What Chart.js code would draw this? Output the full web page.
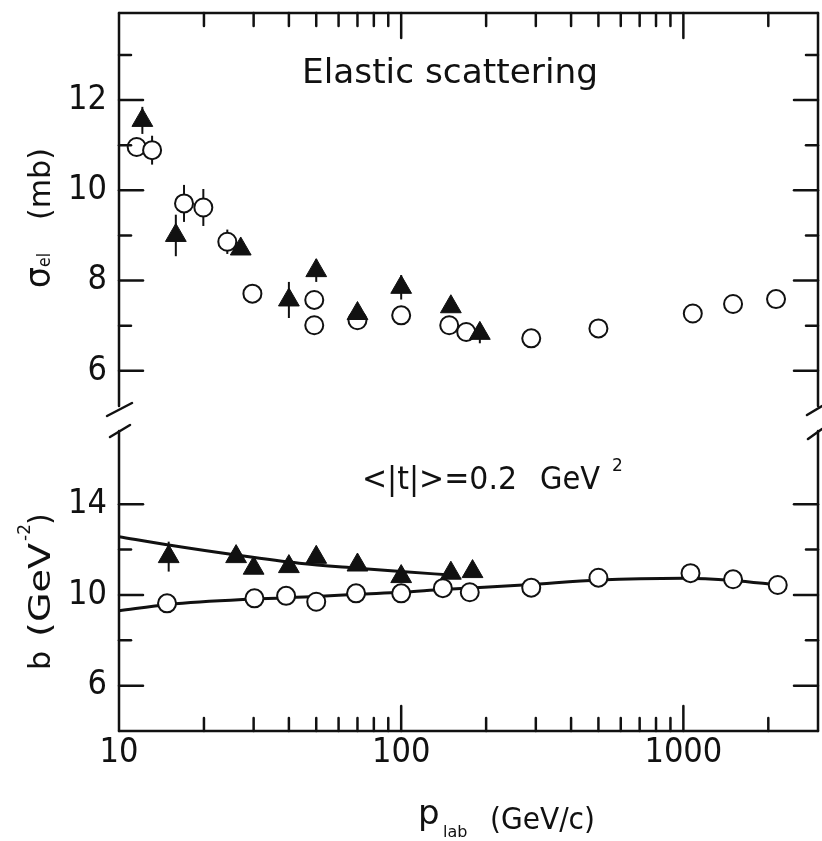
<!DOCTYPE html>
<html>
<head>
<meta charset="utf-8">
<script src="https://cdn.jsdelivr.net/npm/chart.js@4.4.1/dist/chart.umd.min.js"></script>
<style>
  body { margin: 0; background: #fff; overflow: hidden; }
  #wrap { position: relative; width: 822px; height: 841px; }
  #topBox { position: absolute; left: 0; top: 0; width: 822px; height: 420px; }
  #botBox { position: absolute; left: 0; top: 420px; width: 822px; height: 421px; }
  canvas { display: block; }
</style>
</head>
<body>
<div id="wrap">
  <div id="topBox"><canvas id="topChart"></canvas></div>
  <div id="botBox"><canvas id="botChart"></canvas></div>
</div>
<script>
// x axis: p_lab (GeV/c), log scale
const pRange = [10, 3000];
const pLabels = [10, 100, 1000];
const pMajor = [100, 1000];
const pMinor = [20, 30, 40, 50, 60, 70, 80, 90, 200, 300, 400, 500, 600, 700, 800, 900, 2000];

// top panel: sigma_el (mb)
const sigRange = [5.22, 13.93];
const sigTicks = [6, 8, 10, 12];
const sigMinor = [7, 9, 11, 13];
const sigTriP = [12.1, 15.9, 27, 40, 50, 70, 100, 150, 190];
const sigTriV = [11.55, 9.0, 8.7, 7.57, 8.22, 7.27, 7.85, 7.42, 6.83];
const sigTriErr = [0.3, 0.46, 0.1, 0.4, 0.25, 0.1, 0.27, 0.1, 0.22];
const sigCirP = [11.55, 13.1, 17, 19.9, 24.2, 29.7, 49.2, 49.2, 70, 100, 148, 170, 289, 500, 1080, 1500, 2130];
const sigCirV = [10.96, 10.89, 9.71, 9.62, 8.86, 7.71, 7.57, 7.01, 7.12, 7.23, 7.01, 6.86, 6.72, 6.94, 7.27, 7.48, 7.59];
const sigCirErr = [0.1, 0.32, 0.41, 0.41, 0.27, 0, 0, 0, 0, 0, 0, 0, 0, 0, 0, 0, 0];

// bottom panel: slope b (GeV^-2)
const bRange = [4, 17.23];
const bTicks = [6, 10, 14];
const bMinor = [8, 12];
const bTriP = [15, 26, 30, 40, 50, 70, 100, 150, 179];
const bTriV = [11.69, 11.69, 11.18, 11.25, 11.66, 11.32, 10.81, 10.96, 11.03];
const bTriErr = [0.66, 0, 0, 0, 0, 0, 0, 0, 0];
const bCirP = [14.8, 30.2, 39.1, 50, 69.2, 100, 140.5, 175, 289, 500, 1060, 1500, 2160];
const bCirV = [9.63, 9.85, 9.96, 9.70, 10.07, 10.07, 10.30, 10.12, 10.32, 10.76, 10.96, 10.69, 10.44];
const bTriFitP = [10, 15, 26, 43.5, 70, 100, 150];
const bTriFitV = [12.57, 12.2, 11.76, 11.4, 11.18, 11.03, 10.88];
const bCirFitP = [10, 15, 30, 50, 70, 100, 140, 280, 500, 1000, 1500, 2160];
const bCirFitV = [9.3, 9.58, 9.82, 9.93, 10.03, 10.12, 10.24, 10.45, 10.66, 10.74, 10.64, 10.44];

const ink = '#111';
const textFamily = '"DejaVu Sans", sans-serif';
const tickFont = { family: '"Liberation Sans Narrow", "DejaVu Sans Condensed", "Liberation Sans", sans-serif', size: 34 };

const toPoints = (ps, vs) => ps.map((p, i) => ({ x: p, y: vs[i] }));

const triangles = (ps, vs, errs) => ({
  data: toPoints(ps, vs), errors: errs,
  pointStyle: 'triangle', pointRadius: 12, backgroundColor: ink, borderColor: ink, borderWidth: 1
});
const circles = (ps, vs, errs) => ({
  data: toPoints(ps, vs), errors: errs,
  pointStyle: 'circle', pointRadius: 9, backgroundColor: '#fff', borderColor: ink, borderWidth: 2
});
const fitLine = (ps, vs) => ({
  data: toPoints(ps, vs), showLine: true, pointRadius: 0, borderColor: ink, borderWidth: 3,
  cubicInterpolationMode: 'monotone', fill: false
});

// no automatic label padding around the plot box
const noPad = (s) => { s.paddingTop = 0; s.paddingBottom = 0; s.paddingLeft = 0; s.paddingRight = 0; };

// text, optionally squeezed/stretched to a width
function putText(ctx, text, x, y, size, width) {
  ctx.font = `${size}px ${textFamily}`;
  const w = ctx.measureText(text).width;
  ctx.save();
  ctx.translate(x, y);
  if (width) ctx.scale(width / w, 1);
  ctx.fillText(text, 0, 0);
  ctx.restore();
}

const errorBars = {
  id: 'errorBars',
  beforeDatasetsDraw(chart) {
    const ctx = chart.ctx, xs = chart.scales.x, ys = chart.scales.y;
    ctx.save();
    ctx.strokeStyle = ink;
    ctx.lineWidth = 2;
    chart.data.datasets.forEach((ds) => {
      if (!ds.errors) return;
      ds.data.forEach((d, i) => {
        const e = ds.errors[i];
        if (!e) return;
        const px = xs.getPixelForValue(d.x);
        ctx.beginPath();
        ctx.moveTo(px, ys.getPixelForValue(d.y - e));
        ctx.lineTo(px, ys.getPixelForValue(d.y + e));
        ctx.stroke();
      });
    });
    ctx.restore();
  }
};

// box with inward ticks and axis breaks
const frame = {
  id: 'frame',
  afterDraw(chart, args, opts) {
    const ctx = chart.ctx, a = chart.chartArea, xs = chart.scales.x, ys = chart.scales.y;
    const line = (x1, y1, x2, y2) => { ctx.beginPath(); ctx.moveTo(x1, y1); ctx.lineTo(x2, y2); ctx.stroke(); };
    ctx.save();
    ctx.strokeStyle = ink;
    ctx.lineWidth = 2.5;
    ctx.lineCap = 'round';
    line(a.left, a.top, a.left, a.bottom);
    line(a.right, a.top, a.right, a.bottom);
    const edge = opts.xEdge === 'top' ? a.top : a.bottom;
    const dir = opts.xEdge === 'top' ? 1 : -1;
    line(a.left, edge, a.right, edge);
    pMajor.forEach((p) => { const px = xs.getPixelForValue(p); line(px, edge, px, edge + dir * 25); });
    pMinor.forEach((p) => { const px = xs.getPixelForValue(p); line(px, edge, px, edge + dir * 13); });
    opts.yMajor.forEach((v) => {
      const py = ys.getPixelForValue(v);
      line(a.left, py, a.left + 24, py);
      line(a.right, py, a.right - 24, py);
    });
    opts.yMinor.forEach((v) => {
      const py = ys.getPixelForValue(v);
      line(a.left, py, a.left + 12, py);
      line(a.right, py, a.right - 12, py);
    });
    if (opts.xEdge === 'top') {
      line(a.left - 12, a.bottom + 10, a.left + 13, a.bottom - 3);
      line(a.right - 11, a.bottom + 9, a.right + 4, a.bottom);
    } else {
      line(a.left - 9, a.top + 6, a.left + 11, a.top - 6);
      line(a.right - 10, a.top + 8, a.right + 4, a.top - 2);
    }
    ctx.restore();
  }
};

const labels = {
  id: 'labels',
  afterDraw(chart, args, opts) {
    const ctx = chart.ctx;
    ctx.save();
    ctx.fillStyle = ink;
    ctx.textBaseline = 'alphabetic';
    ctx.textAlign = 'left';
    opts.draw(ctx);
    ctx.restore();
  }
};

const yScale = (range, ticks) => ({
  type: 'linear', min: range[0], max: range[1],
  afterBuildTicks: (s) => { s.ticks = ticks.map((v) => ({ value: v })); },
  afterFit: (s) => { s.width = 119; noPad(s); },
  grid: { display: false, drawTicks: false },
  border: { display: false },
  ticks: { font: tickFont, color: ink, padding: 12 }
});

new Chart(document.getElementById('topChart'), {
  type: 'scatter',
  data: {
    datasets: [
      triangles(sigTriP, sigTriV, sigTriErr),
      circles(sigCirP, sigCirV, sigCirErr)
    ]
  },
  options: {
    responsive: true, maintainAspectRatio: false, animation: false,
    layout: { autoPadding: false, padding: { top: 13, bottom: 14, left: 0, right: 4 } },
    scales: {
      x: { type: 'logarithmic', min: pRange[0], max: pRange[1], display: false, afterFit: noPad },
      y: yScale(sigRange, sigTicks)
    },
    plugins: {
      legend: { display: false },
      tooltip: { enabled: false },
      frame: { xEdge: 'top', yMajor: sigTicks, yMinor: sigMinor },
      labels: {
        draw: (ctx) => {
          putText(ctx, 'Elastic scattering', 302, 83, 34, 296);
          ctx.translate(50, 0);
          ctx.rotate(-Math.PI / 2);
          putText(ctx, 'σ', -288, 0, 36, 21);
          putText(ctx, 'el', -267, 0, 17, 14);
          putText(ctx, '(mb)', -220, 0, 30, 72);
        }
      }
    }
  },
  plugins: [errorBars, frame, labels]
});

new Chart(document.getElementById('botChart'), {
  type: 'scatter',
  data: {
    datasets: [
      triangles(bTriP, bTriV, bTriErr),
      circles(bCirP, bCirV, null),
      fitLine(bTriFitP, bTriFitV),
      fitLine(bCirFitP, bCirFitV)
    ]
  },
  options: {
    responsive: true, maintainAspectRatio: false, animation: false,
    layout: { autoPadding: false, padding: { top: 11, bottom: 0, left: 0, right: 4 } },
    scales: {
      x: {
        type: 'logarithmic', min: pRange[0], max: pRange[1],
        afterBuildTicks: (s) => { s.ticks = pLabels.map((v) => ({ value: v })); },
        afterFit: (s) => { s.height = 110; noPad(s); },
        grid: { display: false, drawTicks: false },
        border: { display: false },
        ticks: { font: tickFont, color: ink, padding: 2, autoSkip: false, maxRotation: 0, callback: (v) => String(v) }
      },
      y: yScale(bRange, bTicks)
    },
    plugins: {
      legend: { display: false },
      tooltip: { enabled: false },
      frame: { xEdge: 'bottom', yMajor: bTicks, yMinor: bMinor },
      labels: {
        draw: (ctx) => {
          putText(ctx, '<|t|>=0.2', 362, 69, 32, 155);
          putText(ctx, 'GeV', 540, 69, 32, 60);
          putText(ctx, '2', 612, 51, 17);
          putText(ctx, 'p', 418, 404, 34);
          putText(ctx, 'lab', 443, 417, 16);
          putText(ctx, '(GeV/c)', 490, 409, 30, 105);
          ctx.translate(50, 0);
          ctx.rotate(-Math.PI / 2);
          putText(ctx, 'b', -250, 0, 30);
          putText(ctx, '(GeV', -217, 0, 30, 94);
          putText(ctx, '-2', -121, -20, 17);
          putText(ctx, ')', -105, 0, 30);
        }
      }
    }
  },
  plugins: [errorBars, frame, labels]
});
</script>
</body>
</html>
